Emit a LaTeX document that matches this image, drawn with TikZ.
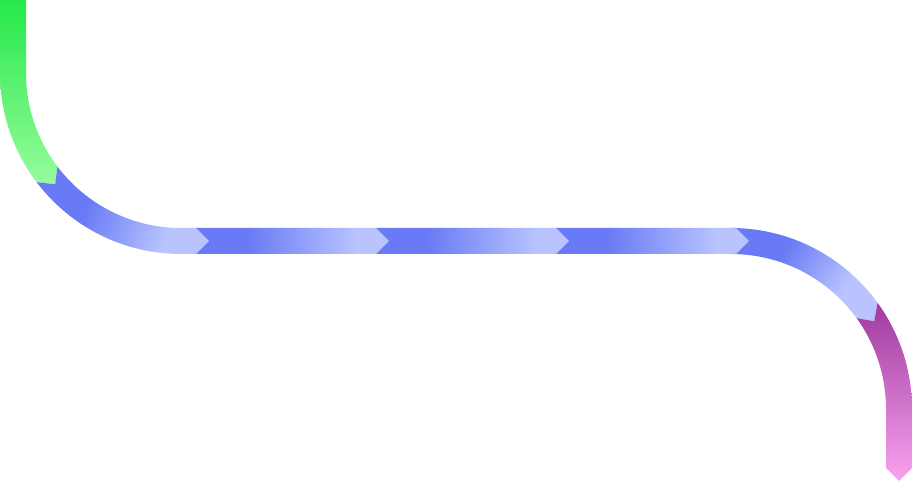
\documentclass[tikz,border=0pt]{standalone}
\usepackage{tikz}

\definecolor{bluedark}{RGB}{104,122,245}
\definecolor{bluelight}{RGB}{185,196,255}
\definecolor{greentop}{RGB}{38,232,74}
\definecolor{greenbot}{RGB}{150,252,156}
\definecolor{magtop}{RGB}{160,58,158}
\definecolor{magbot}{RGB}{248,162,240}
\pgfdeclarehorizontalshading{segshade}{100bp}{color(0bp)=(bluedark); color(38bp)=(bluedark); color(67bp)=(bluelight); color(100bp)=(bluelight)}
\tikzset{
  blueseg/.style={shading=segshade, shading angle=0},
  greenseg/.style={top color=greentop, bottom color=greenbot},
  magseg/.style={top color=magtop, bottom color=magbot}
}

\begin{document}
\begin{tikzpicture}[x=1pt,y=1pt]
                \useasboundingbox (0,0) rectangle (912,482);
                \coordinate (c1) at (181,409);
                \coordinate (c2) at (731,73);
                \shade[greenseg] (0,482) -- (26,482) -- (26,409) arc[start angle=180, end angle=217.07, radius=155]
                    -- ([shift={(c1)}]221.5:168) -- ([shift={(c1)}]217.07:181) arc[start angle=217.07, end angle=180, radius=181] -- cycle;
                \shade[blueseg, shading angle=-20] ([shift={(c1)}]217.07:155) -- ([shift={(c1)}]221.5:168) -- ([shift={(c1)}]217.07:181)
                    arc[start angle=217.07, end angle=270, radius=181] -- (196,228) -- (209,241) -- (196,254) -- (181,254)
                    arc[start angle=270, end angle=217.07, radius=155] -- cycle;
                \foreach \a in {209,389,569}
                    \shade[blueseg] (\a-13,228) -- (\a,241) -- (\a-13,254) -- (\a+167,254) -- (\a+180,241) -- (\a+167,228) -- cycle;
                \shade[blueseg, shading angle=-33] (736,228) -- (749,241) -- (736,254) -- (731,254)
                    arc[start angle=90, end angle=35.93, radius=181] -- ([shift={(c2)}]31.5:168) -- ([shift={(c2)}]35.93:155)
                    arc[start angle=35.93, end angle=90, radius=155] -- cycle;
                \shade[magseg] ([shift={(c2)}]35.93:181) -- ([shift={(c2)}]31.5:168) -- ([shift={(c2)}]35.93:155)
                    arc[start angle=35.93, end angle=0, radius=155] -- (886,14) -- (899,1) -- (912,14) -- (912,73)
                    arc[start angle=0, end angle=35.93, radius=181] -- cycle;
            \end{tikzpicture}
\end{document}
